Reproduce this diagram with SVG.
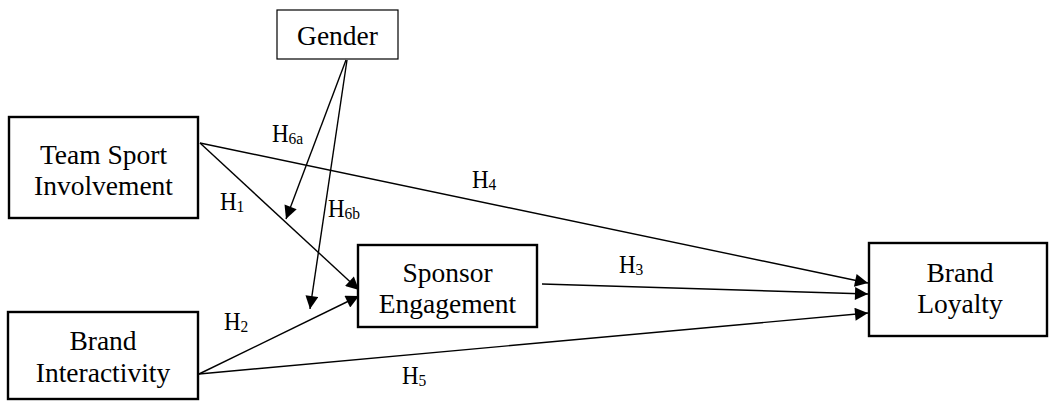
<svg xmlns="http://www.w3.org/2000/svg" width="1050" height="408" viewBox="0 0 1050 408">
<style>
.box{fill:#fff;stroke:#000;stroke-width:2.4}
.thin{fill:#fff;stroke:#000;stroke-width:1.2}
.t{font-family:"Liberation Serif",serif;font-size:27.5px;fill:#000;text-anchor:middle}
.h{font-family:"Liberation Serif",serif;font-size:23px;fill:#000}
.s{font-size:15.5px}
.c{stroke:#000;stroke-width:1.4;fill:none;marker-end:url(#ah)}
</style>
<defs>
<marker id="ah" viewBox="0 0 10 10" refX="10" refY="5" markerWidth="16" markerHeight="13" markerUnits="userSpaceOnUse" orient="auto">
<path d="M0,0 L10,5 L0,10 z" fill="#000"/>
</marker>
</defs>
<g id="connectors">
<line class="c" x1="200" y1="143" x2="359" y2="290"/>
<line class="c" x1="200" y1="143" x2="868" y2="283"/>
<line class="c" x1="199" y1="374" x2="359" y2="296"/>
<line class="c" x1="199" y1="374" x2="868" y2="313"/>
<line class="c" x1="542" y1="284" x2="868" y2="294"/>
<line class="c" x1="346" y1="60" x2="286" y2="219"/>
<line class="c" x1="347" y1="60" x2="310" y2="309"/>
</g>
<g id="gender">
<rect class="thin" x="277" y="10" width="121" height="49"/>
<text class="t" x="337.5" y="45">Gender</text>
</g>
<g id="team-sport">
<rect class="box" x="9" y="117" width="189" height="101"/>
<text class="t" x="103.5" y="164">Team Sport</text>
<text class="t" x="103.5" y="195">Involvement</text>
</g>
<g id="brand-interactivity">
<rect class="box" x="8" y="312" width="190" height="87"/>
<text class="t" x="103" y="350">Brand</text>
<text class="t" x="103" y="382">Interactivity</text>
</g>
<g id="sponsor-engagement">
<rect class="box" x="358" y="245" width="179" height="82"/>
<text class="t" x="447.5" y="282">Sponsor</text>
<text class="t" x="447.5" y="313">Engagement</text>
</g>
<g id="brand-loyalty">
<rect class="box" x="869" y="243" width="178" height="93"/>
<text class="t" x="960" y="282">Brand</text>
<text class="t" x="960" y="313">Loyalty</text>
</g>
<g id="labels">
<text class="h" transform="translate(272,142) scale(1,1.1)">H<tspan class="s" dy="2">6a</tspan></text>
<text class="h" transform="translate(220,210) scale(1,1.1)">H<tspan class="s" dy="2">1</tspan></text>
<text class="h" transform="translate(328,217) scale(1,1.1)">H<tspan class="s" dy="2">6b</tspan></text>
<text class="h" transform="translate(472,188) scale(1,1.1)">H<tspan class="s" dy="2">4</tspan></text>
<text class="h" transform="translate(619,273) scale(1,1.1)">H<tspan class="s" dy="2">3</tspan></text>
<text class="h" transform="translate(224,330) scale(1,1.1)">H<tspan class="s" dy="2">2</tspan></text>
<text class="h" transform="translate(402,384) scale(1,1.1)">H<tspan class="s" dy="2">5</tspan></text>
</g>
</svg>
